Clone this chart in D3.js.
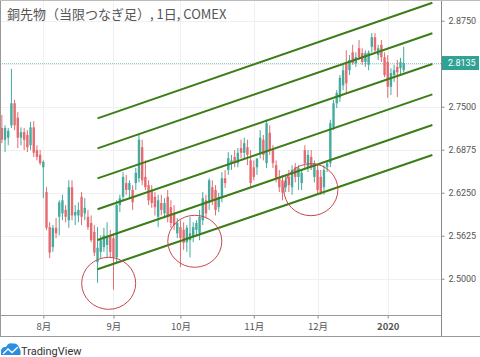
<!DOCTYPE html>
<html><head><meta charset="utf-8">
<script src="https://cdn.jsdelivr.net/npm/d3@7"></script>
<style>body{margin:0;background:#fff}svg{display:block}</style>
</head><body><svg id="c" width="480" height="357"></svg>
<script>
const title = "銅先物（当限つなぎ足）, 1日, COMEX";
const open = [2.719,2.702,2.705,2.723,2.755,2.734,2.705,2.713,2.709,2.694,
2.720,2.687,2.680,2.662,2.626,2.575,2.546,2.574,2.590,2.595,
2.600,2.585,2.633,2.592,2.592,2.619,2.595,2.590,2.581,2.568,
2.524,2.539,2.546,2.549,2.561,2.559,2.531,2.607,2.619,2.639,
2.629,2.629,2.639,2.646,2.691,2.648,2.636,2.629,2.619,2.590,
2.610,2.595,2.619,2.604,2.595,2.566,2.575,2.571,2.553,2.556,
2.561,2.571,2.566,2.585,2.614,2.610,2.633,2.629,2.604,2.619,
2.646,2.658,2.668,2.677,2.668,2.690,2.683,2.691,2.672,2.662,
2.662,2.683,2.702,2.668,2.712,2.687,2.665,2.648,2.643,2.633,
2.648,2.633,2.662,2.648,2.639,2.687,2.662,2.677,2.648,2.658,
2.648,2.633,2.662,2.668,2.720,2.755,2.763,2.781,2.813,2.803,
2.829,2.813,2.835,2.828,2.815,2.811,2.837,2.851,2.825,2.840,
2.822,2.815,2.779,2.796,2.808,2.806,2.803];
const high = [2.738,2.723,2.719,2.805,2.760,2.742,2.720,2.719,2.716,2.728,
2.729,2.694,2.687,2.672,2.633,2.582,2.578,2.588,2.614,2.622,
2.607,2.643,2.643,2.607,2.611,2.626,2.617,2.600,2.592,2.578,
2.575,2.563,2.574,2.582,2.571,2.566,2.614,2.622,2.655,2.651,
2.643,2.636,2.661,2.709,2.702,2.672,2.643,2.636,2.626,2.622,
2.622,2.617,2.629,2.614,2.607,2.588,2.585,2.582,2.578,2.590,
2.582,2.585,2.600,2.626,2.622,2.646,2.643,2.636,2.625,2.655,
2.658,2.684,2.680,2.687,2.690,2.702,2.705,2.702,2.687,2.672,
2.672,2.716,2.709,2.731,2.723,2.694,2.672,2.658,2.651,2.651,
2.658,2.665,2.668,2.665,2.658,2.694,2.687,2.687,2.672,2.665,
2.658,2.665,2.672,2.731,2.760,2.774,2.796,2.811,2.832,2.825,
2.840,2.829,2.847,2.835,2.832,2.832,2.857,2.857,2.840,2.847,
2.829,2.825,2.806,2.811,2.818,2.821,2.837];
const low = [2.697,2.684,2.694,2.719,2.716,2.690,2.694,2.687,2.684,2.687,
2.677,2.672,2.665,2.617,2.571,2.530,2.539,2.559,2.563,2.585,
2.582,2.574,2.585,2.578,2.582,2.578,2.585,2.571,2.553,2.533,
2.494,2.530,2.539,2.531,2.530,2.484,2.524,2.597,2.614,2.622,
2.617,2.600,2.629,2.640,2.636,2.629,2.607,2.603,2.592,2.575,
2.592,2.588,2.582,2.574,2.571,2.559,2.517,2.542,2.539,2.531,
2.553,2.562,2.556,2.578,2.588,2.600,2.607,2.592,2.597,2.611,
2.632,2.651,2.658,2.662,2.662,2.675,2.675,2.665,2.632,2.643,
2.651,2.675,2.672,2.661,2.680,2.661,2.640,2.626,2.614,2.626,
2.626,2.622,2.640,2.629,2.629,2.661,2.655,2.658,2.640,2.622,
2.622,2.622,2.655,2.662,2.716,2.748,2.757,2.774,2.770,2.796,
2.811,2.808,2.818,2.811,2.808,2.803,2.829,2.829,2.818,2.815,
2.793,2.763,2.767,2.786,2.764,2.796,2.800];
const close = [2.702,2.719,2.715,2.755,2.723,2.705,2.713,2.702,2.691,2.720,
2.683,2.677,2.668,2.670,2.574,2.538,2.574,2.566,2.611,2.614,
2.590,2.633,2.592,2.597,2.600,2.590,2.603,2.575,2.556,2.538,
2.545,2.556,2.563,2.562,2.539,2.531,2.607,2.617,2.648,2.629,
2.639,2.611,2.654,2.702,2.643,2.633,2.614,2.610,2.604,2.614,
2.600,2.610,2.590,2.581,2.578,2.581,2.559,2.552,2.574,2.566,
2.575,2.581,2.590,2.617,2.595,2.643,2.614,2.600,2.619,2.646,
2.639,2.675,2.672,2.668,2.683,2.683,2.697,2.680,2.639,2.648,
2.675,2.705,2.680,2.726,2.687,2.668,2.646,2.633,2.625,2.643,
2.636,2.658,2.648,2.661,2.654,2.668,2.680,2.662,2.668,2.629,
2.626,2.658,2.668,2.726,2.755,2.770,2.792,2.803,2.784,2.818,
2.813,2.822,2.822,2.815,2.828,2.829,2.851,2.832,2.835,2.822,
2.796,2.779,2.799,2.803,2.800,2.815,2.8135];
const monthTickIndex = [13, 35, 56, 79, 99, 121];
const monthTickLabels = ["8月", "9月", "10月", "11月", "12月", "2020"];
const priceTicks = [2.5, 2.5625, 2.625, 2.6875, 2.75, 2.8125, 2.875];
const lastPrice = 2.8135;
const channelStartIndex = 30, channelEndIndex = 135;
const channelStartPrice = [2.7331, 2.6895, 2.6459, 2.6009, 2.5562, 2.5137];
const channelEndPrice   = [2.9012, 2.8567, 2.8121, 2.7680, 2.7234, 2.6798];
const circleIndex = [33.5, 60.5, 96.9];
const circlePrice = [2.4933, 2.5544, 2.6294];

const UP = "#45ab9f", DOWN = "#e66a6f";
const W = 480, plotW = 441, plotH = 315, axisBottom = 336;
const svg = d3.select("#c");
const x = d3.scaleLinear().domain([-0.58, 137.7]).range([0, plotW]);
const y = d3.scaleLinear().domain([2.4458, 2.9051]).range([316, 0]);
const axisFont = "Roboto, 'Liberation Sans', sans-serif";

// grid
const g = svg.append("g");
g.selectAll(".vg").data(monthTickIndex).join("line")
  .attr("x1", d => Math.round(x(d)) + 0.5).attr("x2", d => Math.round(x(d)) + 0.5)
  .attr("y1", 0).attr("y2", plotH).attr("stroke", "#eef0f3");
g.selectAll(".hg").data(priceTicks).join("line")
  .attr("x1", 0).attr("x2", plotW)
  .attr("y1", d => Math.round(y(d)) + 0.5).attr("y2", d => Math.round(y(d)) + 0.5)
  .attr("stroke", "#eef0f3");

// title
svg.append("text").attr("x", 7).attr("y", 18.5)
  .attr("font-family", "'Noto Sans CJK JP', 'Noto Sans', sans-serif")
  .attr("font-size", 13).attr("fill", "#555").text(title);

// last price dotted line
svg.append("line").attr("x1", 0).attr("x2", plotW)
  .attr("y1", Math.round(y(lastPrice)) + 0.5).attr("y2", Math.round(y(lastPrice)) + 0.5)
  .attr("stroke", "#8fd0c9").attr("stroke-dasharray", "1,1");

// candles
const idx = d3.range(open.length);
const cg = svg.append("g");
cg.selectAll(".w").data(idx).join("rect")
  .attr("x", i => x(i) - 0.5).attr("width", 1)
  .attr("y", i => y(high[i])).attr("height", i => Math.max(1, y(low[i]) - y(high[i])))
  .attr("fill", i => close[i] >= open[i] ? UP : DOWN);
cg.selectAll(".b").data(idx).join("rect")
  .attr("x", i => x(i) - 1.2).attr("width", 2.4)
  .attr("y", i => y(Math.max(open[i], close[i])))
  .attr("height", i => Math.max(1, Math.abs(y(open[i]) - y(close[i]))))
  .attr("fill", i => close[i] >= open[i] ? UP : DOWN);

// channel lines
svg.append("g").selectAll("line").data(channelStartPrice).join("line")
  .attr("x1", x(channelStartIndex)).attr("x2", x(channelEndIndex))
  .attr("y1", d => y(d)).attr("y2", (d, k) => y(channelEndPrice[k]))
  .attr("stroke", "#3b7d17").attr("stroke-width", 2);

// circles
svg.append("g").selectAll("ellipse").data(circleIndex).join("ellipse")
  .attr("cx", d => x(d)).attr("cy", (d, k) => y(circlePrice[k]))
  .attr("rx", 27).attr("ry", 26)
  .attr("fill", "none").attr("stroke", "#c8474c").attr("stroke-width", 1);

// white axis areas
svg.append("rect").attr("x", plotW).attr("y", 0).attr("width", W - plotW).attr("height", axisBottom).attr("fill", "#fff");
svg.append("rect").attr("x", 0).attr("y", plotH).attr("width", W).attr("height", 357 - plotH).attr("fill", "#fff");

// price axis
const ya = svg.append("g").attr("transform", `translate(${plotW + 0.5},0)`)
  .call(d3.axisRight(y).tickValues(priceTicks.filter(p => Math.abs(p - lastPrice) > 0.01))
    .tickFormat(d3.format(".4f")).tickSize(3).tickPadding(4));
ya.select(".domain").remove();
ya.selectAll("line").attr("stroke", "#888");
ya.selectAll("text").attr("font-family", axisFont).attr("font-size", 9).attr("fill", "#555");
svg.append("line").attr("x1", plotW + 0.5).attr("x2", plotW + 0.5).attr("y1", 0).attr("y2", axisBottom).attr("stroke", "#8a8a8a");

// time axis
const xa = svg.append("g").attr("transform", `translate(0,${plotH + 0.5})`)
  .call(d3.axisBottom(x).tickValues(monthTickIndex).tickFormat((d, k) => monthTickLabels[k]).tickSize(3).tickPadding(5));
xa.select(".domain").remove();
xa.selectAll("line").attr("stroke", "#888");
xa.selectAll("text").attr("font-family", "'Noto Sans CJK JP', sans-serif").attr("font-size", 9.5).attr("fill", "#555")
  .attr("font-weight", (d, k) => monthTickLabels[k] === "2020" ? "bold" : "normal");
svg.append("line").attr("x1", 0).attr("x2", plotW).attr("y1", plotH + 0.5).attr("y2", plotH + 0.5).attr("stroke", "#999");

// frame
svg.append("line").attr("x1", 0.5).attr("x2", 0.5).attr("y1", 0).attr("y2", axisBottom).attr("stroke", "#999");
svg.append("line").attr("x1", 0).attr("x2", W).attr("y1", 0.5).attr("y2", 0.5).attr("stroke", "#bbb");
svg.append("line").attr("x1", 0).attr("x2", W).attr("y1", axisBottom + 0.5).attr("y2", axisBottom + 0.5).attr("stroke", "#999");

// last price label
const ly = y(lastPrice);
svg.append("rect").attr("x", plotW + 1).attr("y", ly - 7).attr("width", W - plotW - 2).attr("height", 14).attr("fill", "#2fa393");
svg.append("text").attr("x", plotW + 7).attr("y", ly + 3.3)
  .attr("font-family", axisFont).attr("font-size", 9).attr("fill", "#fff").text(d3.format(".4f")(lastPrice));

// TradingView logo
const lg = svg.append("g");
lg.append("path").attr("d", "M1,355 L1,351 Q1.5,346.5 6,347 Q8,342 13,343.5 Q18,343 19.5,348.5 Q21,350 20.5,355 Z").attr("fill", "#2a8fe0");
lg.append("path").attr("d", "M3,354 L8,349 L12,352.5 L18,347").attr("fill", "none").attr("stroke", "#fff").attr("stroke-width", 1.4);
lg.append("text").attr("x", 21).attr("y", 354.5).attr("font-family", "Roboto, sans-serif")
  .attr("font-size", 11).attr("fill", "#333").text("TradingView");
</script></body></html>
